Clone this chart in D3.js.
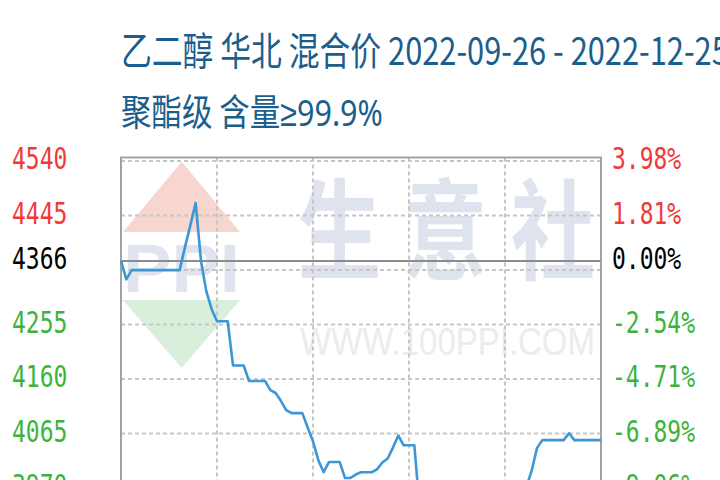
<!DOCTYPE html>
<html><head><meta charset="utf-8">
<script src="https://cdn.jsdelivr.net/npm/d3@7"></script>
<style>html,body{margin:0;padding:0;background:#fff;overflow:hidden}</style>
</head><body><svg id="c" width="720" height="480"></svg>
<script>
const titleLine1 = "乙二醇 华北 混合价 2022-09-26 - 2022-12-25";
const titleLine2a = "聚酯级 含量";
const titleLine2b = "≥99.9%";
const startDate = "2022-09-26";
const endDate = "2022-12-25";
const prices = [
  4366, 4334, 4350, 4350, 4350, 4350, 4350, 4350, 4350, 4350,
  4350, 4350, 4390, 4428, 4467, 4366, 4313, 4282, 4261, 4261,
  4261, 4184, 4184, 4184, 4157, 4157, 4157, 4157, 4141, 4136,
  4122, 4106, 4101, 4101, 4101, 4076, 4052, 4019, 3998, 4016,
  4016, 4016, 3988, 3988, 3994, 3998, 3998, 3998, 4003, 4015,
  4022, 4041, 4062, 4045, 4045, 4045, 3935, 3920, 3905, 3890,
  3880, 3875, 3870, 3865, 3860, 3860, 3865, 3870, 3880, 3890,
  3900, 3915, 3930, 3940, 3950, 3960, 3972, 4001, 4040, 4054,
  4054, 4054, 4054, 4054, 4066, 4054, 4054, 4054, 4054, 4054,
  4054
];
const baseValue = 4366;
const gridValues = [4540, 4445.1, 4350.2, 4255.3, 4160.4, 4065.5, 3970.6];
const labelValues = [4540, 4445.1, 4366, 4255.3, 4160.4, 4065.5, 3970.6];
const leftLabels = ["4540", "4445", "4366", "4255", "4160", "4065", "3970"];
const rightLabels = ["3.98%", "1.81%", "0.00%", "-2.54%", "-4.71%", "-6.89%", "-9.06%"];
const xGridDates = ["2022-10-14", "2022-11-01", "2022-11-19", "2022-12-07"];

const parse = d3.timeParse("%Y-%m-%d");
const dates = d3.timeDay.range(parse(startDate), d3.timeDay.offset(parse(endDate), 1));
const data = dates.map((d, i) => ({date: d, value: prices[i]}));

const svg = d3.select("#c");
const L = 121, R = 601, T = 157.5;
const x = d3.scaleTime().domain([parse(startDate), parse(endDate)]).range([L, R]);
const y = d3.scaleLinear().domain([3875.7, 4540]).range([542.5, 161]);

svg.append("rect").attr("width", 720).attr("height", 480).attr("fill", "#fff");

// titles
const tcol = "#1b5e8c";
const cjk = "'Noto Sans CJK SC', 'Noto Sans', sans-serif";
svg.append("text").attr("transform", "translate(121,65) scale(1,1.25)")
  .attr("font-family", cjk).attr("font-size", 30.8).attr("fill", tcol).text(titleLine1);
const t2 = svg.append("text").attr("transform", "translate(121,126) scale(1,1.22)")
  .attr("font-family", cjk).attr("font-size", 30.5).attr("fill", tcol);
t2.append("tspan").text(titleLine2a);
t2.append("tspan").attr("font-family", "'Noto Sans', sans-serif").text(titleLine2b);

// watermark
const wm = svg.append("g");
wm.append("path").attr("d", "M181.7,161.7 L240,232 L123,232 Z").attr("fill", "#f7d6d0");
wm.append("path").attr("d", "M123,300 L240,300 L181.7,368 Z").attr("fill", "#d9eedb");
wm.append("text").attr("transform", "translate(123,292) scale(1,1.3)")
  .attr("font-family", "'Liberation Sans', Arial, sans-serif").attr("font-weight", "bold")
  .attr("font-size", 52).attr("fill", "#dfe4ee")
  .attr("textLength", 117).attr("lengthAdjust", "spacingAndGlyphs").text("PPI");
const wmChars = ["生", "意", "社"];
const wmX = [339.5, 445, 553];
wmChars.forEach((c, i) => {
  wm.append("text").attr("transform", `translate(${wmX[i]},271) scale(1,1.3)`)
    .attr("text-anchor", "middle")
    .attr("font-family", "'Noto Sans CJK SC', sans-serif").attr("font-weight", "bold")
    .attr("font-size", 84).attr("fill", "#dee3ed").text(c);
});
wm.append("text").attr("transform", "translate(300,355) scale(1,1.3)")
  .attr("font-family", "'Liberation Sans', Arial, sans-serif")
  .attr("font-size", 30).attr("fill", "#ececec")
  .attr("textLength", 295).attr("lengthAdjust", "spacingAndGlyphs").text("WWW.100PPI.COM");

// grid
const gridCol = "#c6c6c6";
svg.append("g").selectAll("line").data(gridValues).join("line")
  .attr("x1", L).attr("x2", R).attr("y1", d => y(d)).attr("y2", d => y(d))
  .attr("stroke", gridCol).attr("stroke-width", 2).attr("stroke-dasharray", "4,3");
svg.append("g").selectAll("line").data(xGridDates).join("line")
  .attr("x1", d => x(parse(d))).attr("x2", d => x(parse(d)))
  .attr("y1", T).attr("y2", 560)
  .attr("stroke", gridCol).attr("stroke-width", 2).attr("stroke-dasharray", "4,3");

// frame
svg.append("rect").attr("x", L).attr("y", T).attr("width", R - L).attr("height", 420)
  .attr("fill", "none").attr("stroke", "#a2a2a2").attr("stroke-width", 2);

// base line
svg.append("line").attr("x1", L).attr("x2", R).attr("y1", y(baseValue)).attr("y2", y(baseValue))
  .attr("stroke", "#8c8c8c").attr("stroke-width", 2);

// data line
svg.append("path").datum(data)
  .attr("d", d3.line().x(d => x(d.date)).y(d => y(d.value)))
  .attr("fill", "none").attr("stroke", "#3b97d6").attr("stroke-width", 2.6)
  .attr("stroke-linejoin", "round");

// axis labels
const colorFor = v => v > baseValue ? "#f03a3a" : (v < baseValue ? "#3cb43c" : "#000");
const mono = "'DejaVu Sans Mono', 'Liberation Mono', monospace";
labelValues.forEach((v, i) => {
  const yy = y(v) + 8;
  svg.append("text").attr("transform", `translate(12,${yy}) scale(1,1.3)`)
    .attr("font-family", mono).attr("font-size", 23).attr("fill", colorFor(v))
    .text(leftLabels[i]);
  svg.append("text").attr("transform", `translate(612,${yy}) scale(1,1.3)`)
    .attr("font-family", mono).attr("font-size", 23).attr("fill", colorFor(v))
    .text(rightLabels[i]);
});
</script></body></html>
